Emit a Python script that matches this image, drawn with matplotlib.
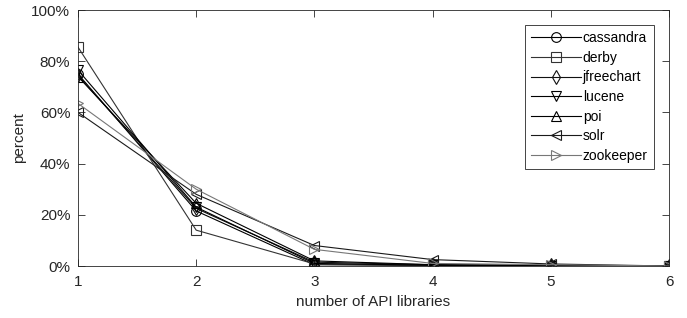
import matplotlib
matplotlib.use("Agg")
import matplotlib.pyplot as plt
from matplotlib.ticker import FuncFormatter

plt.rcParams['font.family'] = ['Liberation Sans', 'DejaVu Sans']

x = [1, 2, 3, 4, 5, 6]
cassandra = [75.0, 21.5, 0.5, 0.2, 0.1, 0.0]
derby = [85.5, 14.0, 0.8, 0.3, 0.1, 0.0]
jfreechart = [74.5, 22.5, 1.5, 0.5, 0.3, 0.0]
lucene = [76.5, 23.0, 1.0, 0.3, 0.1, 0.0]
poi = [74.0, 24.5, 2.0, 0.5, 0.2, 0.0]
solr = [60.0, 28.0, 8.0, 2.5, 0.8, 0.0]
zookeeper = [63.5, 30.0, 6.5, 1.0, 0.5, 0.0]

names = ['cassandra', 'derby', 'jfreechart', 'lucene', 'poi', 'solr', 'zookeeper']
series = [cassandra, derby, jfreechart, lucene, poi, solr, zookeeper]
markers = ['o', 's', 'd', 'v', '^', '<', '>']
colors = ['#000000', '#333333', '#111111', '#000000', '#000000', '#1a1a1a', '#777777']

fig = plt.figure(figsize=(6.87, 3.18), dpi=100)
ax = fig.add_axes([78/687, 1-266/318, (669-78)/687, (266-10)/318])

for name, vals, m, c in zip(names, series, markers, colors):
    ax.plot(x, vals, marker=m, color=c, markerfacecolor='none', markeredgecolor=c,
            markersize=7, linewidth=0.8, markeredgewidth=0.8, label=name)

ax.set_xlim(1, 6)
ax.set_ylim(0, 100)
ax.set_xticks([1, 2, 3, 4, 5, 6])
ax.set_yticks([0, 20, 40, 60, 80, 100])
ax.yaxis.set_major_formatter(FuncFormatter(lambda v, p: f"{int(v)}%"))
ax.tick_params(direction='in', length=5, width=0.6, labelsize=11, colors='#262626',
               top=True, right=True)
ax.tick_params(axis='x', pad=6.5)
ax.tick_params(axis='y', pad=5.5)
for s in ax.spines.values():
    s.set_linewidth(0.6)
    s.set_color('#262626')
ax.set_xlabel('number of API libraries', fontsize=11, color='#262626', labelpad=4)
ax.set_ylabel('percent', fontsize=11, color='#262626', labelpad=4)

leg = ax.legend(loc='upper right', bbox_to_anchor=(0.9746, 0.941), borderaxespad=0,
                fontsize=10, frameon=True, fancybox=False, edgecolor='#262626',
                framealpha=1, handlelength=3.6, borderpad=0.45, labelspacing=0.4,
                handletextpad=0.1)
leg.get_frame().set_linewidth(0.6)

fig.savefig('out.png', dpi=100)
